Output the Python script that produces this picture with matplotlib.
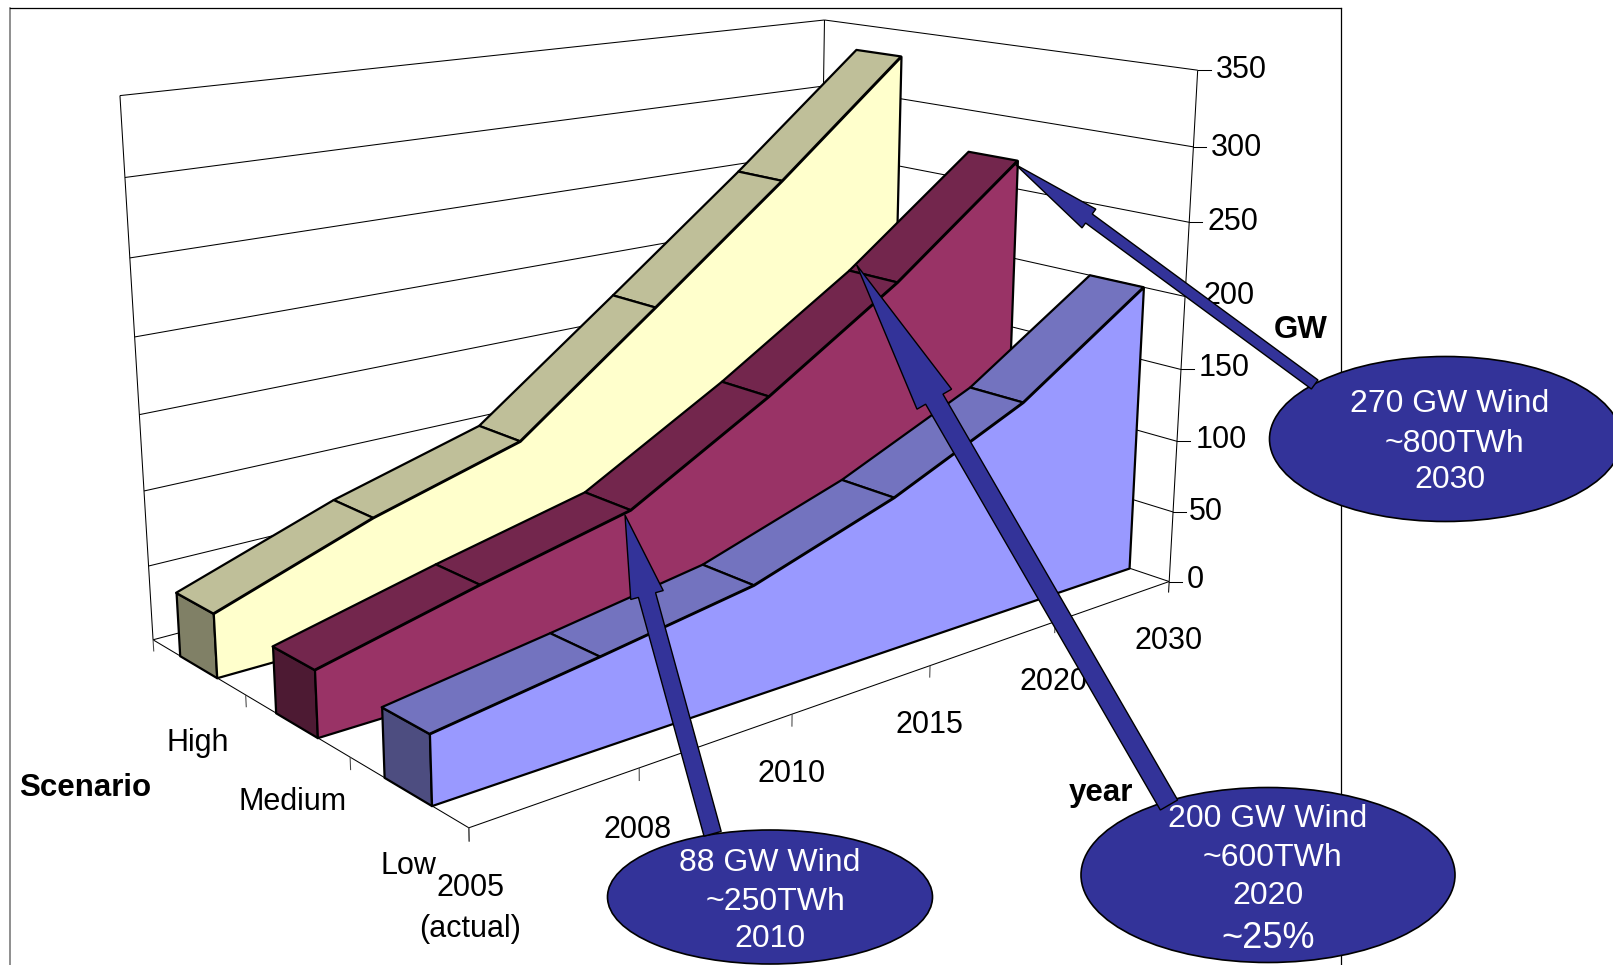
#!/usr/bin/env python
"""Wind capacity scenarios drawn as 3-D ribbon areas with callouts."""

# Third party modules.
import numpy as np
import matplotlib

matplotlib.use("Agg")
import matplotlib.pyplot as plt
from matplotlib.patches import Ellipse, Polygon
from mpl_toolkits.mplot3d.art3d import Poly3DCollection

# Globals and constants variables.
WIDTH, HEIGHT = 1613, 965

year_labels = ["2005\n(actual)", "2008", "2010", "2015", "2020", "2030"]
scenario_labels = ["Low", "Medium", "High"]
gw_ticks = [0, 50, 100, 150, 200, 250, 300, 350]

low_gw = [42, 56, 71, 101, 141, 200]
medium_gw = [42, 66, 88, 141, 200, 270]
high_gw = [42, 78, 106, 179, 253, 331]

SERIES_STYLE = [
    # depth band, values, front, top, end cap colours
    (2, high_gw, "#FFFFCC", "#BFBF99", "#808066"),
    (1, medium_gw, "#993366", "#73264D", "#4D1A33"),
    (0, low_gw, "#9999FF", "#7373BF", "#4D4D80"),
]
BAND_FRONT, BAND_BACK = 0.3, 0.7
CALLOUT = "#333399"
FONT = "Liberation Sans"
# matplotlib centres on the text box, which sits a little high for these labels
TEXT_DROP = 2.5

plt.rcParams["font.family"] = FONT

fig = plt.figure(figsize=(WIDTH / 100, HEIGHT / 100), dpi=100, facecolor="w")

# camera settings for the Excel style perspective box
side = 1155.19
centre_x, centre_y = 661.90, 369.44
ax = fig.add_axes(
    [
        (centre_x - side / 2) / WIDTH,
        1 - (centre_y + side / 2) / HEIGHT,
        side / WIDTH,
        side / HEIGHT,
    ],
    projection="3d",
    computed_zorder=False,
)
ax.set_box_aspect((1.6637, 0.99923, 1.0))
ax.view_init(14.8668, -129.9568, 0.0263)
ax.set_proj_type("persp", focal_length=0.3815)
n_years = len(year_labels) - 1
n_bands = len(scenario_labels)
ax.set_xlim(0, n_years)
ax.set_ylim(0, n_bands)
ax.set_zlim(0, gw_ticks[-1])
ax.set_axis_off()
ax.patch.set_alpha(0)


def wire(xs, ys, zs, lw=0.75, colour="k"):
    ax.plot(xs, ys, zs, color=colour, lw=lw, zorder=1, solid_capstyle="butt")


# walls and floor
for gw in gw_ticks:
    wire([0, n_years], [n_bands, n_bands], [gw, gw])
    wire([n_years, n_years], [n_bands, 0], [gw, gw])
top = gw_ticks[-1]
wire([0, 0], [n_bands, n_bands], [0, top])
wire([n_years, n_years], [n_bands, n_bands], [0, top])
wire([n_years, n_years], [0, 0], [0, top])
wire([0, 0], [n_bands, 0], [0, 0])
wire([0, n_years], [0, 0], [0, 0])

# tick marks hanging under the floor edges
TICK_DROP = -8
wire([n_years, n_years], [0, 0], [TICK_DROP, 0])
for i in range(n_years):
    wire([i, i], [0, 0], [TICK_DROP, 0], colour="#444444")
for i in range(n_bands + 1):
    wire([0, 0], [i, i], [TICK_DROP, 0], colour="#444444")

# one solid ribbon per scenario, back to front
for order, (band, values, c_front, c_top, c_cap) in enumerate(SERIES_STYLE):
    y_front = band + BAND_FRONT
    y_back = band + BAND_BACK
    xs = np.arange(len(values))
    style = dict(edgecolors="k", linewidths=1.6, zorder=2 + order, closed=True)

    cap = [
        [
            (0, y_back, 0),
            (0, y_front, 0),
            (0, y_front, values[0]),
            (0, y_back, values[0]),
        ]
    ]
    ax.add_collection3d(Poly3DCollection(cap, facecolors=c_cap, **style))

    ribbon = []
    for i in range(len(values) - 1):
        ribbon.append(
            [
                (xs[i], y_front, values[i]),
                (xs[i + 1], y_front, values[i + 1]),
                (xs[i + 1], y_back, values[i + 1]),
                (xs[i], y_back, values[i]),
            ]
        )
    ax.add_collection3d(Poly3DCollection(ribbon, facecolors=c_top, **style))

    front = [(x, y_front, v) for x, v in zip(xs, values)]
    front += [(xs[-1], y_front, 0), (0, y_front, 0)]
    ax.add_collection3d(Poly3DCollection([front], facecolors=c_front, **style))

ax.set_xlim(0, n_years)
ax.set_ylim(0, n_bands)
ax.set_zlim(0, top)

# second layer in pixel coordinates for labels and callouts
ax.apply_aspect()
over = fig.add_axes([0, 0, 1, 1])
over.set_xlim(0, WIDTH)
over.set_ylim(HEIGHT, 0)
over.axis("off")


def to_pixels(x, y, z):
    q = ax.get_proj() @ np.array([x, y, z, 1.0])
    px, py = ax.transData.transform(q[:2] / q[3])
    return px, HEIGHT - py


# chart frame
over.plot([10, 10], [7.5, HEIGHT], color="#707070", lw=1.1, zorder=1)
over.plot([10, 1340.5], [7.5, 7.5], color="k", lw=0.9, zorder=1)
over.plot([1340.5, 1340.5], [7.5, HEIGHT], color="k", lw=0.9, zorder=1)

# value axis ticks run flat to the right of the front corner
for gw in gw_ticks:
    px, py = to_pixels(n_years, 0, gw)
    over.plot([px, px + 13], [py, py], color="k", lw=0.75, zorder=2)

label_style = dict(fontsize=22, ha="center", va="center", color="k", zorder=3)
gw_label_pos = [
    (1195, 577),
    (1206, 509),
    (1221.5, 438),
    (1224, 366),
    (1229, 293),
    (1233, 219),
    (1236, 145),
    (1241, 68),
]
for gw, pos in zip(gw_ticks, gw_label_pos):
    over.text(pos[0], pos[1] + TEXT_DROP, str(gw), **label_style)

year_label_pos = [
    (470, 885.5),
    (638, 827),
    (791.5, 771),
    (929, 722.5),
    (1053.5, 680),
    (1168.5, 638.5),
]
for text, pos in zip(year_labels, year_label_pos):
    first = text.split("\n")
    over.text(pos[0], pos[1] + TEXT_DROP, first[0], **label_style)
    if len(first) > 1:
        over.text(pos[0], pos[1] + 41 + TEXT_DROP, first[1], **label_style)

scenario_label_pos = [(408, 864), (293, 799.5), (197.5, 741)]
for text, pos in zip(scenario_labels, scenario_label_pos):
    over.text(pos[0], pos[1] + TEXT_DROP, text, **label_style)

title_style = dict(
    fontsize=22.5, fontweight="bold", ha="center", va="center", color="k", zorder=3
)
over.text(85, 785 + TEXT_DROP, "Scenario", **title_style)
over.text(1101, 791 + TEXT_DROP, "year", **title_style)
over.text(1300.5, 328 + TEXT_DROP, "GW", **title_style)


def arrow(tip, tail, shaft, head, head_len):
    tip = np.array(tip, float)
    tail = np.array(tail, float)
    along = (tail - tip) / np.hypot(*(tail - tip))
    across = np.array([-along[1], along[0]])
    neck = tip + along * head_len
    outline = [
        tip,
        neck + across * head / 2,
        neck + across * shaft / 2,
        tail + across * shaft / 2,
        tail - across * shaft / 2,
        neck - across * shaft / 2,
        neck - across * head / 2,
    ]
    over.add_patch(Polygon(outline, fc=CALLOUT, ec="k", lw=1.0, zorder=5))


def callout(centre, size, lines):
    over.add_patch(
        Ellipse(centre, size[0], size[1], fc=CALLOUT, ec="k", lw=1.2, zorder=4)
    )
    for text, x, y, points in lines:
        over.text(
            x,
            y + TEXT_DROP,
            text,
            color="w",
            fontsize=points,
            ha="center",
            va="center",
            zorder=6,
        )


callout(
    (1445.5, 439),
    (352, 165),
    [
        ("270 GW Wind", 1449.5, 402, 23),
        ("~800TWh", 1454.5, 441, 23),
        ("2030", 1449.5, 478, 23),
    ],
)
callout(
    (770, 897),
    (325, 134),
    [
        ("88 GW Wind", 769.5, 860.5, 23),
        ("~250TWh", 775.5, 899, 23),
        ("2010", 769.5, 936.5, 23),
    ],
)
callout(
    (1268, 875),
    (374, 175),
    [
        ("200 GW Wind", 1267.5, 816.5, 23),
        ("~600TWh", 1272.5, 855, 23),
        ("2020", 1267.5, 893.5, 23),
        ("~25%", 1268.5, 936, 26),
    ],
)

arrow((1015.6, 164.6), (1314.7, 384.5), 11.2, 23.3, 91)
arrow((856.7, 265), (1169, 805), 20, 40, 155)
arrow((625, 515), (712.6, 833.8), 17.8, 33.7, 83)

fig.savefig("out.png", dpi=100, facecolor="w")
